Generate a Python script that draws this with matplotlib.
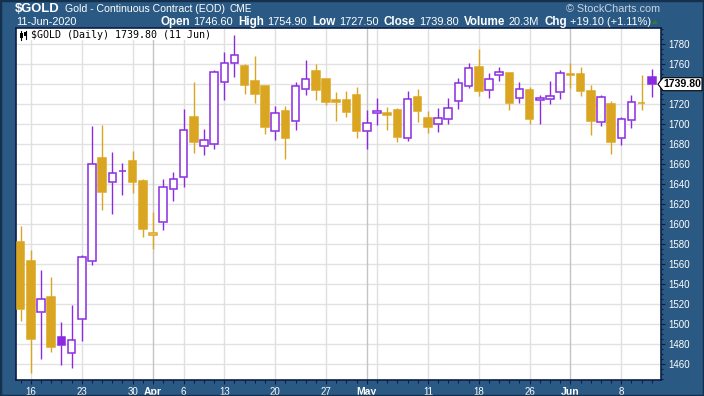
import numpy as np
import matplotlib
matplotlib.use('Agg')
import matplotlib.pyplot as plt
import matplotlib.transforms as mtransforms
from matplotlib.patches import Polygon, Rectangle

# ---------------------------------------------------------------------------
# DATA ($GOLD daily)
# ---------------------------------------------------------------------------
dates = ['2020-03-13',
         '2020-03-16', '2020-03-17', '2020-03-18', '2020-03-19', '2020-03-20',
         '2020-03-23', '2020-03-24', '2020-03-25', '2020-03-26', '2020-03-27',
         '2020-03-30', '2020-03-31', '2020-04-01', '2020-04-02', '2020-04-03',
         '2020-04-06', '2020-04-07', '2020-04-08', '2020-04-09',
         '2020-04-13', '2020-04-14', '2020-04-15', '2020-04-16', '2020-04-17',
         '2020-04-20', '2020-04-21', '2020-04-22', '2020-04-23', '2020-04-24',
         '2020-04-27', '2020-04-28', '2020-04-29', '2020-04-30', '2020-05-01',
         '2020-05-04', '2020-05-05', '2020-05-06', '2020-05-07', '2020-05-08',
         '2020-05-11', '2020-05-12', '2020-05-13', '2020-05-14', '2020-05-15',
         '2020-05-18', '2020-05-19', '2020-05-20', '2020-05-21', '2020-05-22',
         '2020-05-26', '2020-05-27', '2020-05-28', '2020-05-29',
         '2020-06-01', '2020-06-02', '2020-06-03', '2020-06-04', '2020-06-05',
         '2020-06-08', '2020-06-09', '2020-06-10', '2020-06-11']

opens = [1582.0,
         1563.0, 1511.7, 1527.0, 1486.7, 1470.7,
         1504.7, 1562.7, 1666.0, 1641.7, 1653.5,
         1663.0, 1643.0, 1588.7, 1601.7, 1634.7,
         1646.7, 1707.0, 1677.7, 1679.7,
         1741.7, 1760.7, 1758.0, 1743.0, 1738.0,
         1692.7, 1713.0, 1702.7, 1735.3, 1753.0,
         1745.0, 1724.0, 1724.0, 1729.0, 1692.7,
         1710.7, 1710.7, 1714.0, 1685.7, 1727.0,
         1706.0, 1699.7, 1704.7, 1722.7, 1737.7,
         1757.0, 1733.7, 1748.7, 1751.0, 1725.7,
         1734.0, 1723.7, 1724.7, 1731.7,
         1749.7, 1750.0, 1733.3, 1701.7, 1719.7,
         1685.7, 1703.7, 1721.0, 1746.6]

highs = [1598.0,
         1574.0, 1554.0, 1547.0, 1502.0, 1519.0,
         1568.7, 1698.0, 1699.0, 1672.0, 1660.7,
         1673.0, 1645.0, 1612.0, 1644.7, 1651.7,
         1715.0, 1742.0, 1695.0, 1754.0,
         1771.7, 1789.0, 1759.7, 1768.3, 1738.0,
         1718.0, 1718.0, 1742.0, 1764.0, 1760.0,
         1745.0, 1732.0, 1733.0, 1737.0, 1714.0,
         1726.0, 1717.0, 1716.0, 1733.0, 1735.0,
         1713.0, 1716.0, 1726.0, 1746.0, 1761.0,
         1775.0, 1751.0, 1757.0, 1751.0, 1742.0,
         1737.0, 1729.0, 1743.0, 1754.0,
         1761.0, 1757.0, 1739.0, 1728.7, 1723.0,
         1706.7, 1728.7, 1749.0, 1754.9]

lows = [1503.3,
        1450.7, 1464.7, 1472.3, 1459.3, 1456.3,
        1483.3, 1559.3, 1614.3, 1610.3, 1629.3,
        1631.3, 1587.3, 1575.3, 1594.3, 1623.3,
        1637.3, 1671.3, 1669.3, 1675.3,
        1723.7, 1746.7, 1730.3, 1721.3, 1690.3,
        1684.3, 1665.3, 1694.3, 1729.3, 1724.3,
        1719.3, 1703.3, 1707.3, 1686.3, 1675.3,
        1699.3, 1694.3, 1682.3, 1683.3, 1702.3,
        1691.3, 1692.3, 1700.3, 1715.3, 1735.7,
        1728.3, 1726.3, 1743.3, 1714.3, 1721.3,
        1699.7, 1700.3, 1719.7, 1724.7,
        1736.3, 1727.7, 1689.3, 1698.3, 1670.3,
        1679.3, 1696.3, 1713.7, 1727.5]

closes = [1515.3,
          1485.3, 1524.7, 1477.3, 1478.7, 1483.7,
          1566.7, 1659.7, 1632.3, 1650.7, 1653.0,
          1642.0, 1595.3, 1590.7, 1636.7, 1644.7,
          1693.7, 1682.3, 1683.7, 1751.7,
          1760.7, 1768.7, 1739.3, 1730.3, 1697.3,
          1710.7, 1686.3, 1737.7, 1744.7, 1734.3,
          1722.3, 1721.7, 1712.3, 1693.3, 1700.7,
          1712.7, 1709.3, 1687.3, 1724.7, 1713.3,
          1697.3, 1705.7, 1715.7, 1740.7, 1755.7,
          1733.3, 1744.7, 1751.7, 1721.3, 1734.7,
          1704.7, 1725.7, 1727.7, 1751.0,
          1748.7, 1733.3, 1703.3, 1726.7, 1682.3,
          1704.7, 1721.7, 1720.7, 1739.8]

prev_close0 = 1590.0   # close before the first candle

# vertical grid lines (first trading day of week / month)
week_dates = ['2020-03-16', '2020-03-23', '2020-03-30', '2020-04-06', '2020-04-13',
              '2020-04-20', '2020-04-27', '2020-05-04', '2020-05-11', '2020-05-18',
              '2020-05-26', '2020-06-08']
month_dates = ['2020-04-01', '2020-05-01', '2020-06-01']

# x tick labels
xtick_dates = ['2020-03-16', '2020-03-23', '2020-03-30', '2020-04-01', '2020-04-06',
               '2020-04-13', '2020-04-20', '2020-04-27', '2020-05-01', '2020-05-11',
               '2020-05-18', '2020-05-26', '2020-06-01', '2020-06-08']
xtick_labels = ['16', '23', '30', 'Apr', '6', '13', '20', '27', 'May', '11', '18',
                '26', 'Jun', '8']

yticks = list(range(1460, 1781, 20))

last_close = 1739.80

# ---------------------------------------------------------------------------
# STYLE
# ---------------------------------------------------------------------------
BG = '#2a5a84'
NAVY = '#0c1d45'
GOLD = '#daa520'
PURPLE = '#8a2be2'
W, H = 704, 396

plt.rcParams['font.family'] = ['Liberation Sans', 'DejaVu Sans']

fig = plt.figure(figsize=(W / 100, H / 100), dpi=100, facecolor=BG)


def fx(px):
    return px / W


def fy(py):
    return 1 - py / H


ax = fig.add_axes([fx(16), fy(380), fx(661) - fx(16), fy(28) - fy(380)])
ax.set_facecolor('white')

# ---------------------------------------------------------------------------
# CANDLES
# ---------------------------------------------------------------------------
x = np.arange(len(dates))
o = np.array(opens)
c = np.array(closes)
hi = np.array(highs)
lo = np.array(lows)
prev = np.r_[prev_close0, c[:-1]]
cols = np.where(c >= prev, PURPLE, GOLD)
hollow = c > o
body_lo = np.minimum(o, c)
body_hi = np.maximum(o, c)

ax.vlines(x, body_hi, hi, colors=cols, lw=1.0, zorder=3)
ax.vlines(x, lo, body_lo, colors=cols, lw=1.0, zorder=3)
face = np.where(hollow, 'white', cols)
ax.bar(x, np.maximum(body_hi - body_lo, 0.3), bottom=body_lo, width=0.74,
       color=face, edgecolor=cols, linewidth=1.1, zorder=4)

# ---------------------------------------------------------------------------
# AXES / GRID
# ---------------------------------------------------------------------------
idx = {d: i for i, d in enumerate(dates)}
ax.set_xlim(-0.46, 62.9)
ax.set_ylim(1444, 1796)

for y in yticks:
    ax.axhline(y, color='#e2e2e2', lw=1.0, zorder=0)
for d in week_dates:
    ax.axvline(idx[d], color='#e0e0e0', lw=1.0, zorder=0)
for d in month_dates:
    ax.axvline(idx[d], color='#c4c4c4', lw=1.0, zorder=0)

ax.yaxis.tick_right()
ax.set_yticks(yticks)
# the 1740 label is covered by the last-price tag
ax.set_yticklabels(['' if abs(v - last_close) < 10 else str(v) for v in yticks])
ax.set_yticks(np.arange(1445, 1796, 5), minor=True)
ax.tick_params(axis='y', which='major', colors=NAVY, labelcolor='white',
               labelsize=7, length=3, width=0.8, pad=2)
ax.tick_params(axis='y', which='minor', colors=NAVY, length=1.5, width=0.8)

ax.set_xticks([idx[d] for d in xtick_dates])
ax.set_xticklabels(xtick_labels)
ax.set_xticks(x, minor=True)
ax.tick_params(axis='x', which='major', colors=NAVY, labelcolor='white',
               labelsize=7, length=3, width=0.8, pad=2)
ax.tick_params(axis='x', which='minor', colors=NAVY, length=2, width=0.8)
for lab in ax.get_xticklabels():
    if lab.get_text() in ('Apr', 'May', 'Jun'):
        lab.set_fontweight('bold')
        lab.set_fontsize(7.5)

for sp in ax.spines.values():
    sp.set_color(NAVY)
    sp.set_linewidth(1.2)

# legend strip inside the plot
ax.add_patch(Rectangle((0, 1 - 12 / 352), 0.3, 12 / 352, transform=ax.transAxes,
                       facecolor='white', edgecolor='none', zorder=1))
fig.text(fx(31), fy(35.5), '$GOLD (Daily) 1739.80 (11 Jun)', family='DejaVu Sans Mono',
         fontsize=7.2, color='black', va='center', ha='left')
# small candle icon
for xi, (b0, b1, w0, w1) in zip([21, 25.5], [(33, 38, 31, 39.5), (32, 36, 31, 38.5)]):
    fig.add_artist(plt.Line2D([fx(xi), fx(xi)], [fy(w0), fy(w1)], color='black', lw=0.8))
    fig.add_artist(Rectangle((fx(xi - 1.5), fy(b1)), fx(3), fy(b0) - fy(b1),
                             facecolor='black', edgecolor='none'))

# price tag on the right axis
tr = mtransforms.blended_transform_factory(fig.transFigure, ax.transData)
tag = Polygon([(fx(658), last_close), (fx(663), last_close + 6.5), (fx(702), last_close + 6.5),
               (fx(702), last_close - 6.5), (fx(663), last_close - 6.5)], closed=True,
              transform=tr, facecolor='white', edgecolor='black', lw=0.8, clip_on=False, zorder=10)
fig.add_artist(tag)
fig.text(fx(682.5), fy(1824 - last_close), f'{last_close:.2f}', fontsize=7.6, fontweight='bold',
         color='black', ha='center', va='center', zorder=11)

# ---------------------------------------------------------------------------
# HEADER
# ---------------------------------------------------------------------------
fig.text(fx(15), fy(8.5), '$GOLD', fontsize=9.4, fontweight='bold', color='white',
         va='center', ha='left')
fig.text(fx(65), fy(9), 'Gold - Continuous Contract (EOD)', fontsize=7.6, color='white',
         va='center', ha='left')
fig.text(fx(230), fy(9), 'CME', fontsize=7.2, color='white', va='center', ha='left')
fig.text(fx(660), fy(9), '\u00a9 StockCharts.com', fontsize=7.8, color='#c9d3de',
         va='center', ha='right')
fig.text(fx(16), fy(22), '11-Jun-2020', fontsize=7.8, color='white', va='center', ha='left')

pieces = [('Open', True), ('1746.60', False), ('High', True), ('1754.90', False),
          ('Low', True), ('1727.50', False), ('Close', True), ('1739.80', False),
          ('Volume', True), ('20.3M', False), ('Chg', True), ('+19.10 (+1.11%)', False)]
renderer = fig.canvas.get_renderer()
xr = 651.0
for k, (txt, bold) in enumerate(reversed(pieces)):
    t = fig.text(fx(xr), fy(22), txt, fontsize=7.9 if not bold else 8.4,
                 fontweight='bold' if bold else 'normal', color='white', va='center', ha='right')
    wpx = t.get_window_extent(renderer).width
    xr -= wpx + (3 if not bold else 5.5)
fig.add_artist(Polygon([(fx(652), fy(24)), (fx(658), fy(24)), (fx(655), fy(20))], closed=True,
                       facecolor='#2e7d32', edgecolor='none'))

# outer border
fig.add_artist(Rectangle((0, 0), 1, 1, transform=fig.transFigure, facecolor='none',
                         edgecolor='#14304d', lw=2.5))

fig.savefig('out.png', dpi=100, facecolor=BG)
